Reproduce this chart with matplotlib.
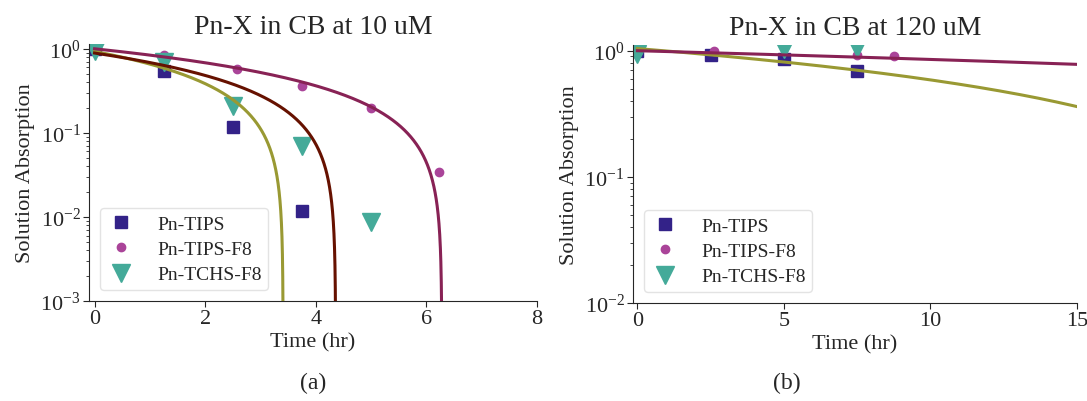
import numpy as np
import matplotlib
matplotlib.use('Agg')
import matplotlib.pyplot as plt

# ---- data ----
labels = ['Pn-TIPS', 'Pn-TIPS-F8', 'Pn-TCHS-F8']

# (a) 10 uM
tips_t_a = [0, 1.25, 2.5, 3.75]
tips_y_a = [1.0, 0.54, 0.116, 0.0117]
f8_t_a = [0, 1.25, 2.57, 3.75, 5.0, 6.23]
f8_y_a = [1.0, 0.84, 0.575, 0.36, 0.195, 0.034]
tchs_t_a = [0, 1.25, 2.5, 3.75, 5.0]
tchs_y_a = [0.95, 0.70, 0.21, 0.069, 0.0087]

# (b) 120 uM
tips_t_b = [0, 2.5, 5.0, 7.5]
tips_y_b = [1.0, 0.93, 0.86, 0.69]
f8_t_b = [0, 2.6, 7.5, 8.75]
f8_y_b = [1.0, 1.0, 0.93, 0.915]
tchs_t_b = [0, 5.0, 7.5]
tchs_y_b = [0.95, 1.035, 1.06]

# linear fits y = y0 - slope*t  (fit parameters)
fit_y0_a = [0.93, 1.0, 0.89]
fit_slope_a = [0.93 / 3.41, 1.0 / 6.28, 0.89 / 4.36]
fit_y0_b = [1.04, 1.0]
fit_slope_b = [0.0453, 0.0147]

c_tips = '#332288'
c_f8 = '#AA4499'
c_tchs = '#44AA99'
fit_cols_a = ['#999933', '#882255', '#661100']
fit_cols_b = ['#999933', '#882255']

plt.rcParams['font.family'] = 'serif'
plt.rcParams['font.serif'] = ['Liberation Serif', 'DejaVu Serif']
plt.rcParams['mathtext.fontset'] = 'stix'
plt.rcParams['text.color'] = '#262626'
plt.rcParams['axes.labelcolor'] = '#262626'
plt.rcParams['xtick.color'] = '#262626'
plt.rcParams['ytick.color'] = '#262626'
plt.rcParams['axes.edgecolor'] = '#262626'

fig = plt.figure(figsize=(10.87, 4.02), dpi=100)
ax1 = fig.add_axes([0.0819, 0.2488, 0.4121, 0.6393])
ax2 = fig.add_axes([0.5823, 0.2438, 0.4085, 0.6418])


def setup(ax, title, xlim, ylim, xticks):
    ax.set_yscale('log')
    ax.set_xlim(*xlim)
    ax.set_ylim(*ylim)
    ax.set_xticks(xticks)
    ax.spines['top'].set_visible(False)
    ax.spines['right'].set_visible(False)
    ax.set_title(title, fontsize=20, pad=8)
    ax.set_xlabel('Time (hr)', fontsize=16, labelpad=3)
    ax.set_ylabel('Solution Absorption', fontsize=16, labelpad=4)
    ax.tick_params(labelsize=16, pad=2, length=4)
    ax.tick_params(which='minor', length=2.5)
    ax.legend(loc='lower left', fontsize=14, frameon=True, edgecolor='#dddddd',
              borderpad=0.35, handlelength=1.5, handletextpad=1.1,
              labelspacing=0.4, borderaxespad=0.55)


# (a)
tt = np.linspace(0, 8, 4000)
for y0, k, c in zip(fit_y0_a, fit_slope_a, fit_cols_a):
    yy = y0 - k * tt
    yy[yy <= 0] = np.nan
    ax1.plot(tt, yy, color=c, lw=2.2, zorder=3)
ax1.plot(tips_t_a, tips_y_a, 's', color=c_tips, ms=9, label=labels[0], zorder=2)
ax1.plot(f8_t_a, f8_y_a, 'o', color=c_f8, ms=6, label=labels[1], zorder=2)
ax1.plot(tchs_t_a, tchs_y_a, 'v', color=c_tchs, ms=13, label=labels[2], zorder=2)
setup(ax1, 'Pn-X in CB at 10 uM', (-0.1, 8), (1e-3, 1.14), [0, 2, 4, 6, 8])

# (b)
tt = np.linspace(0, 15, 400)
for y0, k, c in zip(fit_y0_b, fit_slope_b, fit_cols_b):
    ax2.plot(tt, y0 - k * tt, color=c, lw=2.2, zorder=3)
ax2.plot(tips_t_b, tips_y_b, 's', color=c_tips, ms=9, label=labels[0], zorder=2)
ax2.plot(f8_t_b, f8_y_b, 'o', color=c_f8, ms=6, label=labels[1], zorder=2)
ax2.plot(tchs_t_b, tchs_y_b, 'v', color=c_tchs, ms=13, label=labels[2], zorder=2)
setup(ax2, 'Pn-X in CB at 120 uM', (-0.15, 15), (1e-2, 1.11), [0, 5, 10, 15])

fig.text(0.288, 0.045, '(a)', ha='center', va='center', fontsize=17)
fig.text(0.724, 0.045, '(b)', ha='center', va='center', fontsize=17)

fig.savefig('out.png', dpi=100)
